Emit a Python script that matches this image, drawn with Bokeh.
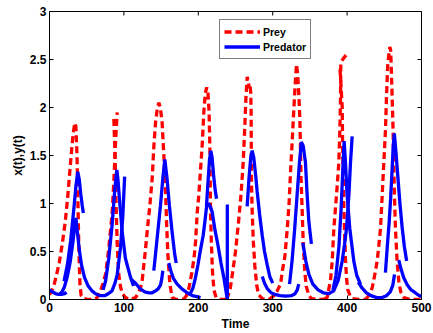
import math
from bokeh.plotting import figure
from bokeh.models import FixedTicker, Legend, LegendItem, Range1d
from bokeh.embed import file_html
from bokeh.resources import INLINE

# Prey x(t): one list of times and one of values per drawn piece
prey_t = [
    [0, 3, 6, 9, 13, 17, 21, 24.5, 27.5, 30, 32, 34, 35.5, 37, 38, 39, 40, 41, 42.5, 46, 52, 58, 62,
     64, 68.5, 72, 75.3, 78, 80, 82, 84.2, 86.4, 88, 89.5, 91],
    [86.5, 87.7, 88.7, 89.6, 90.9, 92, 93.1, 95.5, 98, 102, 108, 115.6, 119, 122.3, 124.6, 126.8, 129,
     131.3, 134.9, 138, 140.3, 142.5, 145, 147, 149, 151.4, 153.7, 155.9, 157.3, 159.1, 161.8, 164.9, 170, 180],
    [180, 184, 187.4, 191.8, 194.5, 196.3, 198.5, 200.8, 203, 205.2, 207.4, 209.5, 211.3, 213, 214.5,
     215.5, 216, 216.5, 217.5, 219, 221, 224, 230, 238],
    [238, 240, 243, 246.5, 250, 254, 257.5, 260.5, 262.5, 264, 265.7, 267, 268.5, 269.5, 270.5, 271,
     271.2, 271.5, 272.5, 274, 276, 278.5, 281, 286, 295],
    [295, 301.6, 306.1, 310.6, 313, 316.4, 319.6, 322, 324.1, 326.2, 328.4, 330.6, 332, 333.5, 335,
     336.4, 337.3, 338, 339.5, 341, 343, 345, 348.7, 352, 360, 368],
    [368, 373.2, 377.7, 380, 382.2, 385.8, 388.9, 390.3, 391.2, 391.5, 394, 397, 400.1],
    [390.5, 392, 393.4, 394, 394.7, 395.5, 396.5, 397.9, 399.5, 401, 404, 407, 415, 425],
    [425, 427, 430, 433.7, 437, 440.4, 442.5, 444.9, 447.2, 449.4, 451.6, 453, 454.7, 457.4, 458.5,
     459.2, 460.5, 461.8, 462.7, 463.6, 465, 467.2, 469.5, 472, 476.3, 485, 495, 500],
]
prey_v = [
    [0.05, 0.09, 0.15, 0.24, 0.38, 0.57, 0.80, 1.07, 1.35, 1.58, 1.74, 1.84, 1.80, 1.50, 1.10, 0.70, 0.38,
     0.15, 0.04, 0.01, 0.0, 0.0, 0.01, 0.02, 0.09, 0.17, 0.26, 0.42, 0.56, 0.72, 0.90, 1.22, 1.50, 1.75, 1.95],
    [1.88, 1.60, 1.30, 0.95, 0.60, 0.40, 0.26, 0.13, 0.06, 0.02, 0.0, 0.02, 0.06, 0.12, 0.20, 0.36, 0.52,
     0.71, 0.98, 1.26, 1.60, 1.84, 2.0, 2.05, 2.0, 1.84, 1.50, 1.15, 0.81, 0.47, 0.16, 0.02, 0.0, 0.0],
    [0.0, 0.04, 0.12, 0.30, 0.45, 0.60, 0.90, 1.10, 1.35, 1.60, 1.95, 2.15, 2.21, 2.15, 1.95, 1.60, 1.26,
     0.90, 0.60, 0.30, 0.10, 0.02, 0.0, 0.0],
    [0.0, 0.04, 0.12, 0.30, 0.50, 0.80, 1.10, 1.45, 1.80, 2.10, 2.32, 2.28, 2.20, 2.24, 2.15, 1.95, 1.60,
     1.20, 0.90, 0.60, 0.35, 0.15, 0.05, 0.01, 0.0],
    [0.0, 0.04, 0.09, 0.16, 0.30, 0.45, 0.74, 1.0, 1.35, 1.65, 1.98, 2.29, 2.45, 2.35, 2.15, 1.90, 1.60,
     1.29, 0.95, 0.60, 0.30, 0.14, 0.04, 0.01, 0.0, 0.0],
    [0.0, 0.02, 0.20, 0.40, 0.74, 1.09, 1.43, 1.77, 2.12, 2.46, 2.50, 2.53, 2.56],
    [2.40, 2.20, 2.00, 1.60, 1.30, 1.00, 0.74, 0.40, 0.20, 0.10, 0.04, 0.01, 0.0, 0.0],
    [0.0, 0.02, 0.05, 0.12, 0.25, 0.40, 0.55, 0.74, 1.09, 1.43, 1.77, 2.12, 2.46, 2.63, 2.60, 2.46, 2.12,
     1.77, 1.43, 1.09, 0.74, 0.40, 0.19, 0.08, 0.02, 0.0, 0.0, 0.01],
]

# Predator y(t)
pred_t = [
    [0, 4, 8, 12, 16, 20, 23],
    [19.5, 24, 28.4, 32.8, 35.5, 38, 40, 42, 44, 45.5],
    [14, 17, 20, 24, 28, 31.5, 34, 35.5, 37.5, 40, 43, 47, 52, 57, 62, 68, 74, 79, 84, 88, 91, 95.4, 98.6, 101],
    [72, 75.3, 79.7, 84.2, 87.9, 90.5, 92, 94, 97.6, 102, 108.9, 113],
    [110, 115.6, 122, 128, 133.5, 138, 142.5, 146, 149.2, 151, 152.3],
    [140.2, 144.7, 149.2, 152.3, 155, 158, 161.1, 164.7, 168.3, 170.3],
    [160.4, 163, 166.5, 171.6, 178, 185, 192, 198, 203],
    [188, 192.8, 196, 199.5, 203, 206.6, 209, 211, 213.5, 216, 218.7, 222.5, 226.3, 230.5, 234.5, 237, 239, 239],
    [211, 213, 215, 216.8, 218.5, 220.5, 222.5, 224.5],
    [265.7, 268, 270.5, 272.4, 274.5, 277, 279.2, 282.5, 285.9, 289, 292.6, 296, 300],
    [286, 289, 293, 298, 304, 310, 318, 325, 330, 333, 335],
    [322.6, 326, 329.6, 332.8, 336, 338.5, 341, 344, 346.3, 348.6, 352],
    [340.5, 344.5, 348.7, 354, 361, 368, 375, 382, 388, 393.4, 396.5, 399.2, 402.4, 404.6, 406.8],
    [381, 385, 389, 392, 394.5, 396, 397.8, 400, 403.6, 409, 413, 418],
    [415, 420, 426, 432, 440, 447, 453, 458, 461.5, 463.7],
    [451.5, 454, 456.5, 458.5, 460.5, 462, 463.5, 466, 468.5, 471, 474, 477, 480],
    [469.5, 472, 476, 481, 486, 490, 495, 500],
]
pred_v = [
    [0.10, 0.08, 0.062, 0.054, 0.053, 0.06, 0.075],
    [0.19, 0.36, 0.61, 0.95, 1.18, 1.33, 1.25, 1.10, 0.98, 0.90],
    [0.06, 0.08, 0.13, 0.24, 0.40, 0.60, 0.77, 0.85, 0.70, 0.52, 0.36, 0.23, 0.14, 0.09, 0.06, 0.04, 0.04,
     0.06, 0.09, 0.17, 0.26, 0.54, 0.88, 1.28],
    [0.10, 0.19, 0.43, 0.78, 1.16, 1.35, 1.25, 1.05, 0.71, 0.43, 0.23, 0.14],
    [0.21, 0.17, 0.11, 0.08, 0.07, 0.07, 0.09, 0.11, 0.15, 0.22, 0.30],
    [0.30, 0.64, 0.98, 1.26, 1.46, 1.26, 0.98, 0.71, 0.47, 0.38],
    [0.38, 0.30, 0.22, 0.16, 0.11, 0.07, 0.04, 0.03, 0.02],
    [0.04, 0.12, 0.22, 0.36, 0.52, 0.67, 0.82, 0.96, 1.0, 0.97, 0.91, 0.72, 0.57, 0.38, 0.22, 0.10, 0.0, 0.99],
    [0.97, 1.22, 1.45, 1.55, 1.48, 1.30, 1.15, 1.05],
    [0.97, 1.25, 1.48, 1.55, 1.48, 1.30, 1.12, 0.88, 0.67, 0.50, 0.36, 0.24, 0.17],
    [0.24, 0.17, 0.11, 0.07, 0.05, 0.04, 0.035, 0.04, 0.06, 0.10, 0.16],
    [0.16, 0.40, 0.74, 1.09, 1.43, 1.64, 1.60, 1.43, 1.09, 0.81, 0.58],
    [0.59, 0.40, 0.26, 0.16, 0.10, 0.07, 0.06, 0.09, 0.20, 0.40, 0.57, 0.74, 1.09, 1.43, 1.70],
    [0.10, 0.25, 0.55, 0.95, 1.40, 1.65, 1.43, 1.09, 0.74, 0.40, 0.25, 0.16],
    [0.18, 0.12, 0.07, 0.04, 0.02, 0.02, 0.04, 0.08, 0.15, 0.26],
    [0.28, 0.55, 0.80, 1.05, 1.35, 1.60, 1.73, 1.50, 1.25, 1.00, 0.75, 0.55, 0.40],
    [0.41, 0.33, 0.23, 0.15, 0.10, 0.08, 0.05, 0.03],
]

x_ticks = [0, 100, 200, 300, 400, 500]
y_ticks = [0, 0.5, 1, 1.5, 2, 2.5, 3]
y_tick_labels = {0: "0", 0.5: "0.5", 1: "1", 1.5: "1.5", 2: "2", 2.5: "2.5", 3: "3"}
x_min, x_max = 0, 500
y_min, y_max = 0, 3

FONT = "Liberation Sans"

p = figure(width=433, height=333, x_range=Range1d(x_min, x_max), y_range=Range1d(y_min, y_max),
           output_backend="svg", toolbar_location=None,
           min_border_left=49, min_border_right=12, min_border_top=11, min_border_bottom=31,
           x_axis_label="Time", y_axis_label="x(t),y(t)")

p.grid.visible = False
p.outline_line_color = "black"
p.outline_line_width = 1
p.background_fill_color = "white"
p.border_fill_color = "white"

for ax, ticks in ((p.xaxis[0], x_ticks), (p.yaxis[0], y_ticks)):
    ax.ticker = FixedTicker(ticks=ticks)
    ax.major_tick_in = 4
    ax.major_tick_out = 0
    ax.minor_tick_line_color = None
    ax.axis_line_color = "black"
    ax.major_tick_line_color = "black"
    ax.major_label_text_font = FONT
    ax.major_label_text_font_style = "bold"
    ax.major_label_text_font_size = "12px"
    ax.major_label_text_color = "black"
    ax.major_label_standoff = 3
    ax.axis_label_text_font = FONT
    ax.axis_label_text_font_style = "bold"
    ax.axis_label_text_font_size = "12px"
    ax.axis_label_text_color = "black"
    ax.axis_label_standoff = 2
p.yaxis[0].major_label_overrides = y_tick_labels

# inward tick marks on the top and right edges of the box (half of each dash is clipped by the frame)
p.scatter(x=x_ticks, y=[y_max] * len(x_ticks), marker="dash", size=8, angle=math.pi / 2,
          line_color="black", line_width=1)
p.scatter(x=[x_max] * len(y_ticks), y=y_ticks, marker="dash", size=8,
          line_color="black", line_width=1)

prey_r = p.multi_line(xs=prey_t, ys=prey_v, line_color="#ff0000", line_width=3.3, line_dash="7 4")
pred_r = p.multi_line(xs=pred_t, ys=pred_v, line_color="#0000ff", line_width=3.3)

legend = Legend(items=[LegendItem(label="Prey", renderers=[prey_r]),
                       LegendItem(label="Predator", renderers=[pred_r])],
                location=(170, 240))
legend.label_text_font = FONT
legend.label_text_font_style = "bold"
legend.label_text_font_size = "10.5px"
legend.label_text_color = "black"
legend.border_line_color = "black"
legend.border_line_width = 1
legend.background_fill_color = "white"
legend.background_fill_alpha = 1
legend.padding = 4
legend.spacing = 0
legend.margin = 0
legend.glyph_width = 36
legend.glyph_height = 15
legend.label_height = 15
legend.label_standoff = 3
p.add_layout(legend)

open("out.html", "w").write(file_html(p, INLINE))
